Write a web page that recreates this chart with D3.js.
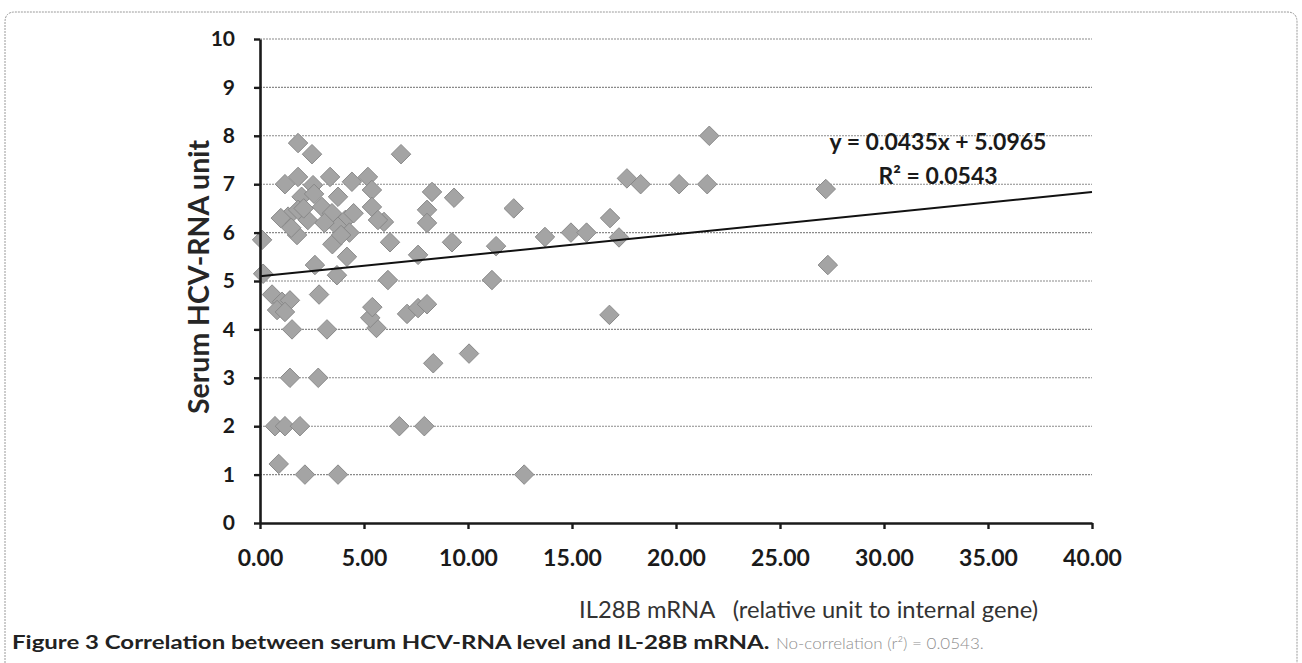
<!DOCTYPE html>
<html><head><meta charset="utf-8">
<script src="https://cdn.jsdelivr.net/npm/d3@7"></script>
<style>
html,body{margin:0;padding:0;background:#fff;}
svg{display:block;}
</style></head>
<body><svg id="c" width="1302" height="663"></svg>
<script>
// ---- data ----
const il28bMrna = [
  0.1, 0.15,
  0.58, 1.06, 1.44, 0.82, 1.2, 2.84,
  1.54, 3.22, 5.6, 5.3, 5.4,
  1.44, 2.8,
  0.72, 1.2, 1.92, 6.7, 7.9,
  0.9, 2.16, 3.75, 12.7,
  7.07, 7.6, 8.03, 16.8, 8.33, 10.05,
  2.64, 4.18, 3.7, 6.15, 11.15, 7.6, 3.48,
  6.25, 9.23, 11.35, 13.7, 14.95, 15.7, 16.83, 17.26,
  17.64, 18.3, 20.15, 21.6, 21.5, 27.2, 27.3,
  6.78, 8.27, 9.33, 8.03, 8.03, 12.2, 5.96,
  1.83, 2.5,
  1.2, 1.83, 2.55, 3.37, 4.42, 5.19, 5.38,
  2.0, 2.98, 3.75, 5.38,
  1.35, 1.83, 2.3, 1.78, 3.46, 4.1, 3.75, 5.67,
  1.5, 2.1, 4.3, 3.1, 1.0, 4.5, 2.6, 3.9
];
const hcvRnaUnit = [
  5.85, 5.15,
  4.72, 4.57, 4.6, 4.4, 4.36, 4.72,
  4.0, 4.0, 4.03, 4.24, 4.46,
  3.0, 3.0,
  2.0, 2.0, 2.0, 2.0, 2.0,
  1.22, 1.0, 1.0, 1.0,
  4.32, 4.44, 4.52, 4.3, 3.3, 3.5,
  5.33, 5.5, 5.12, 5.02, 5.02, 5.54, 5.76,
  5.8, 5.8, 5.72, 5.91, 6.0, 6.0, 6.3, 5.9,
  7.12, 7.0, 7.0, 8.0, 7.0, 6.9, 5.33,
  7.62, 6.84, 6.72, 6.47, 6.2, 6.5, 6.22,
  7.85, 7.62,
  7.0, 7.15, 6.98, 7.15, 7.05, 7.15, 6.88,
  6.74, 6.53, 6.74, 6.53,
  6.33, 6.47, 6.26, 5.95, 6.4, 6.26, 6.12, 6.26,
  6.1, 6.5, 6.0, 6.2, 6.3, 6.4, 6.8, 5.95
];
const xTickValues = [0, 5, 10, 15, 20, 25, 30, 35, 40];
const yTickValues = [0, 1, 2, 3, 4, 5, 6, 7, 8, 9, 10];
const trendSlope = 0.0435;
const trendIntercept = 5.0965;
const equationLabel = "y = 0.0435x + 5.0965";
const r2Label = "R\u00B2 = 0.0543";
const yTitle = "Serum HCV-RNA unit";
const xTitle = "IL28B mRNA   (relative unit to internal gene)";
const captionBold = "Figure 3 Correlation between serum HCV-RNA level and IL-28B mRNA.";
const captionLight = "No-correlation (r\u00B2) = 0.0543.";

// ---- drawing ----
const svg = d3.select("#c");
const FONT = "Lato, 'Open Sans', sans-serif";
const x = d3.scaleLinear().domain([0, 40]).range([260, 1092]);
const y = d3.scaleLinear().domain([0, 10]).range([523, 39]);

function fitWidth(sel, target) {
  const w = sel.node().getComputedTextLength();
  const fs = parseFloat(sel.attr("font-size"));
  sel.attr("font-size", (fs * target / w).toFixed(2));
}
function stretchTo(sel, target) {
  const w = sel.node().getComputedTextLength();
  const x0 = +sel.attr("x");
  const k = target / w;
  sel.attr("transform", `translate(${x0 * (1 - k)},0) scale(${k},1)`);
}

// frame
svg.append("path")
  .attr("d", "M5,663 L5,22 Q5,12 15,12 L1287,12 Q1297,12 1297,22 L1297,663")
  .attr("fill", "none").attr("stroke", "#9a9a9a").attr("stroke-width", 1)
  .attr("stroke-dasharray", "2 1");

// gridlines
svg.append("g").selectAll("line")
  .data(yTickValues.filter(v => v > 0))
  .join("line")
  .attr("x1", x(0)).attr("x2", x(40))
  .attr("y1", d => y(d)).attr("y2", d => y(d))
  .attr("stroke", "#8a8a8a").attr("stroke-width", 1.1)
  .attr("stroke-dasharray", "2 1");

// points
const diamond = d3.symbol().type(d3.symbolSquare).size(190)();
svg.append("g").selectAll("path")
  .data(il28bMrna.map((v, i) => [v, hcvRnaUnit[i]]))
  .join("path")
  .attr("d", diamond)
  .attr("transform", d => `translate(${x(d[0])},${y(d[1])}) rotate(45)`)
  .attr("fill", "#a4a4a4").attr("stroke", "#868686").attr("stroke-width", 0.9);

// trendline
svg.append("line")
  .attr("x1", x(0)).attr("y1", y(trendIntercept))
  .attr("x2", x(40)).attr("y2", y(trendIntercept + trendSlope * 40))
  .attr("stroke", "#111").attr("stroke-width", 2);

// axes
const yAxis = svg.append("g").attr("transform", `translate(${x(0)},0)`)
  .call(d3.axisLeft(y).tickValues(yTickValues).tickFormat(d3.format("d"))
    .tickSize(6).tickSizeOuter(0).tickPadding(19));
const xAxis = svg.append("g").attr("transform", `translate(0,${y(0)})`)
  .call(d3.axisBottom(x).tickValues(xTickValues).tickFormat(d3.format(".2f"))
    .tickSize(6).tickSizeOuter(0).tickPadding(21));
[yAxis, xAxis].forEach(g => {
  g.select(".domain").attr("stroke", "#1a1a1a").attr("stroke-width", 2.6);
  g.selectAll(".tick line").attr("stroke", "#1a1a1a").attr("stroke-width", 2.4);
  g.selectAll("text").attr("font-family", FONT).attr("font-weight", 700)
    .attr("fill", "#1a1a1a");
});
yAxis.selectAll("text").attr("font-size", 21);
xAxis.selectAll("text").attr("font-size", 23);

// axis titles
const yt = svg.append("text")
  .attr("transform", "translate(209,277) rotate(-90)")
  .attr("text-anchor", "middle").attr("font-family", FONT)
  .attr("font-weight", 700).attr("font-size", 26).attr("fill", "#262626")
  .text(yTitle);
fitWidth(yt, 274);

const xt = svg.append("text")
  .attr("x", 1038).attr("y", 618).attr("text-anchor", "end")
  .attr("font-family", FONT).attr("font-size", 24).attr("fill", "#333")
  .style("white-space", "pre").attr("xml:space", "preserve")
  .text(xTitle);
fitWidth(xt, 459);

// trendline labels
svg.append("text").attr("x", 938).attr("y", 150).attr("text-anchor", "middle")
  .attr("font-family", FONT).attr("font-weight", 700).attr("font-size", 23)
  .attr("fill", "#1a1a1a").text(equationLabel);
svg.append("text").attr("x", 938).attr("y", 184).attr("text-anchor", "middle")
  .attr("font-family", FONT).attr("font-weight", 700).attr("font-size", 23)
  .attr("fill", "#1a1a1a").text(r2Label);

// caption
const cb = svg.append("text").attr("x", 12).attr("y", 649)
  .attr("font-family", FONT).attr("font-weight", 700).attr("font-size", 18.5)
  .attr("fill", "#222").text(captionBold);
stretchTo(cb, 758);
const cl = svg.append("text").attr("x", 776).attr("y", 649)
  .attr("font-family", FONT).attr("font-weight", 300).attr("font-size", 15)
  .attr("fill", "#8f8f8f").text(captionLight);
stretchTo(cl, 208);
</script>
</body></html>
